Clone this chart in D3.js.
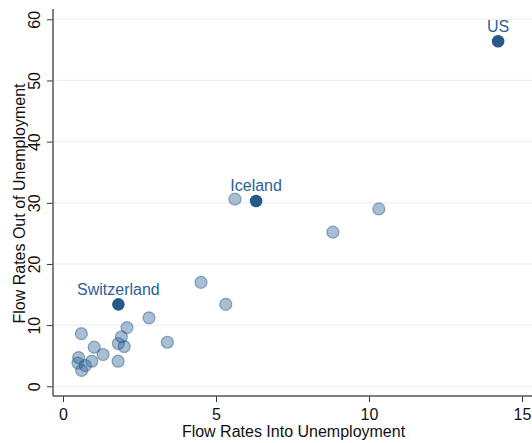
<!DOCTYPE html>
<html><head><meta charset="utf-8">
<script src="https://cdn.jsdelivr.net/npm/d3@7"></script>
<style>body{margin:0;background:#fff}svg{display:block}text{font-family:"Liberation Sans",Arial,Helvetica,sans-serif}</style>
</head><body><svg id="c" width="532" height="443"></svg>
<script>
const flowIn  = [0.49,0.51,0.61,0.73,0.94,1.02,1.31,1.80,1.81,2.0,1.91,0.60,2.09,2.81,3.41,4.51,5.32,8.82,10.32,5.62];
const flowOut = [3.8,4.7,2.6,3.4,4.1,6.4,5.2,4.1,7.0,6.5,8.1,8.6,9.6,11.2,7.2,17.0,13.4,25.2,29.0,30.6];
const hiNames = ["US","Iceland","Switzerland"];
const hiIn    = [14.22,6.31,1.81];
const hiOut   = [56.4,30.3,13.4];
const xTicks = [0,5,10,15];
const yTicks = [0,10,20,30,40,50,60];

(function(){
const svg = d3.select("#c");
const x = d3.scaleLinear().domain([0,15]).range([63,522]);
const y = d3.scaleLinear().domain([0,60]).range([386.3,19.3]);
const pL=53, pR=532, pT=9, pB=396;

// gridlines
svg.append("g").selectAll("line").data(yTicks).join("line")
  .attr("x1",pL).attr("x2",pR).attr("y1",d=>y(d)).attr("y2",d=>y(d))
  .attr("stroke","#eaf2f3").attr("stroke-width",1.2);

// axes
const xAxis = svg.append("g").attr("transform",`translate(0,${pB})`)
  .call(d3.axisBottom(x).tickValues(xTicks).tickSize(6).tickPadding(6).tickFormat(d3.format("d")));
xAxis.select(".domain").remove();
svg.append("line").attr("x1",pL).attr("x2",pR).attr("y1",pB).attr("y2",pB).attr("stroke","#555").attr("stroke-width",1.5);
xAxis.selectAll(".tick line").attr("stroke","#333");
xAxis.selectAll(".tick text").attr("font-size",16).attr("fill","#111").attr("dy",null).attr("y",24);

const yAxis = svg.append("g").attr("transform",`translate(${pL},0)`)
  .call(d3.axisLeft(y).tickValues(yTicks).tickSize(6).tickFormat(d3.format("d")));
yAxis.select(".domain").remove();
svg.append("line").attr("x1",pL).attr("x2",pL).attr("y1",pT).attr("y2",pB).attr("stroke","#555").attr("stroke-width",1.5);
yAxis.selectAll(".tick line").attr("stroke","#333");
yAxis.selectAll(".tick text").attr("font-size",16).attr("fill","#111")
  .attr("x",null).attr("dy",null).attr("text-anchor","middle")
  .attr("transform","translate(-13,0) rotate(-90)");

// titles
svg.append("text").attr("x",(pL+pR)/2+1).attr("y",437).attr("text-anchor","middle")
  .attr("font-size",16).attr("fill","#111").text("Flow Rates Into Unemployment");
svg.append("text").attr("transform",`translate(25,${(pT+pB)/2+1}) rotate(-90)`).attr("text-anchor","middle")
  .attr("font-size",16).attr("fill","#111").text("Flow Rates Out of Unemployment");

// points
svg.append("g").selectAll("circle").data(flowIn.map((d,i)=>[d,flowOut[i]])).join("circle")
  .attr("cx",d=>x(d[0])).attr("cy",d=>y(d[1])).attr("r",6)
  .attr("fill","rgba(45,100,150,0.42)").attr("stroke","rgba(30,80,130,0.45)").attr("stroke-width",1.2);

const hi = hiNames.map((n,i)=>({n,x:hiIn[i],y:hiOut[i]}));
svg.append("g").selectAll("circle").data(hi).join("circle")
  .attr("cx",d=>x(d.x)).attr("cy",d=>y(d.y)).attr("r",6.3)
  .attr("fill","#275a8b");
svg.append("g").selectAll("text").data(hi).join("text")
  .attr("x",d=>x(d.x)).attr("y",d=>y(d.y)-9.5).attr("text-anchor","middle")
  .attr("font-size",16).attr("fill","#2e6194").text(d=>d.n);
})();
</script></body></html>
